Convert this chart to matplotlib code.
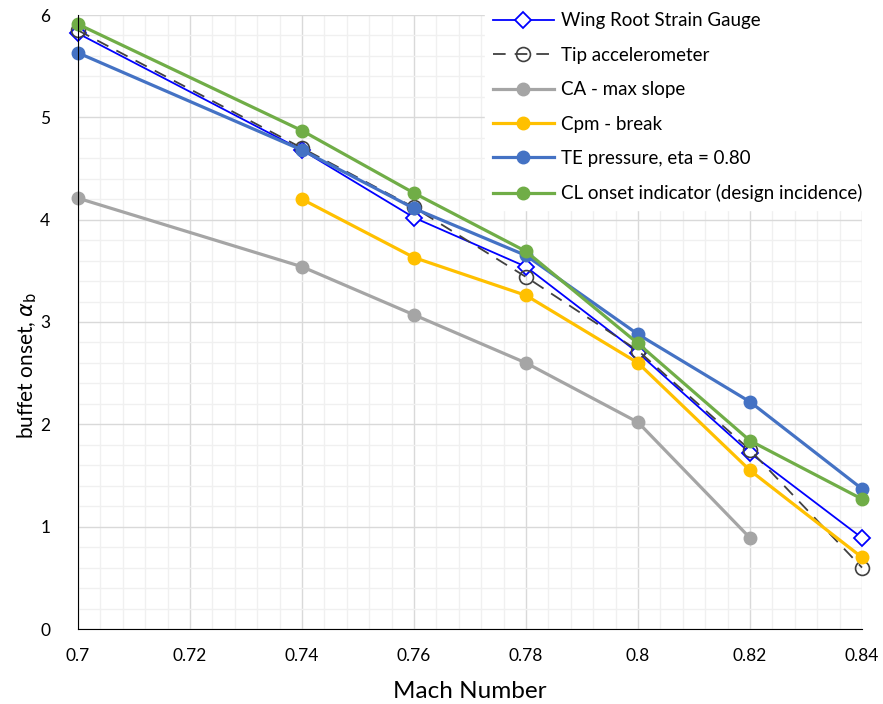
import matplotlib
matplotlib.use("Agg")
import matplotlib.pyplot as plt
from matplotlib.ticker import MultipleLocator

plt.rcParams['font.family'] = ['Lato', 'DejaVu Sans']
plt.rcParams['mathtext.fontset'] = 'dejavusans'

# Mach numbers
mach = [0.70, 0.74, 0.76, 0.78, 0.80, 0.82, 0.84]
mach_ca = [0.70, 0.74, 0.76, 0.78, 0.80, 0.82]
mach_cpm = [0.74, 0.76, 0.78, 0.80, 0.82, 0.84]

# buffet onset values
wing_root = [5.82, 4.68, 4.02, 3.54, 2.70, 1.72, 0.89]
tip_acc = [5.85, 4.70, 4.12, 3.44, 2.72, 1.75, 0.60]
ca_max = [4.21, 3.54, 3.07, 2.60, 2.02, 0.89]
cpm_break = [4.20, 3.63, 3.26, 2.60, 1.55, 0.70]
te_press = [5.63, 4.68, 4.11, 3.65, 2.88, 2.22, 1.37]
cl_onset = [5.91, 4.87, 4.26, 3.69, 2.79, 1.84, 1.27]

fig = plt.figure(figsize=(8.83, 7.04), dpi=100)
ax = fig.add_axes([78/883, 75/704, 784/883, 614/704])

ax.plot(mach, wing_root, color='#0000FF', lw=1.3, marker='D', ms=8,
        mfc='white', mec='#0000FF', mew=1.3, label='Wing Root Strain Gauge', clip_on=False)
ax.plot(mach, tip_acc, color='#404040', lw=1.3, ls=(0, (7, 5)), marker='o', ms=10,
        mfc='none', mec='#404040', mew=1.2, label='Tip accelerometer', clip_on=False)
ax.plot(mach_ca, ca_max, color='#A5A5A5', lw=2.3, marker='o', ms=9,
        label='CA - max slope', clip_on=False)
ax.plot(mach_cpm, cpm_break, color='#FFC000', lw=2.3, marker='o', ms=9,
        label='Cpm - break', clip_on=False)
ax.plot(mach, te_press, color='#4472C4', lw=2.3, marker='o', ms=9,
        label='TE pressure, eta = 0.80', clip_on=False)
ax.plot(mach, cl_onset, color='#70AD47', lw=2.3, marker='o', ms=9,
        label='CL onset indicator (design incidence)', clip_on=False)

ax.set_xlim(0.7, 0.84)
ax.set_ylim(0, 6)
ax.xaxis.set_major_locator(MultipleLocator(0.02))
ax.xaxis.set_minor_locator(MultipleLocator(0.004))
ax.yaxis.set_major_locator(MultipleLocator(1))
ax.yaxis.set_minor_locator(MultipleLocator(0.2))
ax.set_xticks(mach_ca + [0.72, 0.84])
ax.set_xticklabels([('%g' % v) for v in ax.get_xticks()])
ax.grid(which='major', color='#D9D9D9', lw=1.0)
ax.grid(which='minor', color='#F0F0F0', lw=1.0)
ax.set_axisbelow(True)

for s in ['top', 'right']:
    ax.spines[s].set_visible(False)
ax.spines['left'].set_color('black')
ax.spines['bottom'].set_color('black')
ax.tick_params(which='both', length=0)
ax.tick_params(axis='x', pad=14, labelsize=12.5)
ax.tick_params(axis='y', pad=20, labelsize=12.5)

ax.set_xlabel('Mach Number', fontsize=17.5, labelpad=12)
ax.set_ylabel(r'buffet onset, $\alpha_\mathrm{b}$', fontsize=15)
ax.yaxis.set_label_coords(-0.05, 0.43)

leg = ax.legend(loc='upper right', bbox_to_anchor=(1.022, 1.032), fontsize=13.5,
                frameon=True, fancybox=False, edgecolor='white', framealpha=1,
                handlelength=3.3, handletextpad=0.35, labelspacing=0.93, borderpad=0.4)
leg.set_zorder(5)

fig.savefig('out.png', dpi=100)
